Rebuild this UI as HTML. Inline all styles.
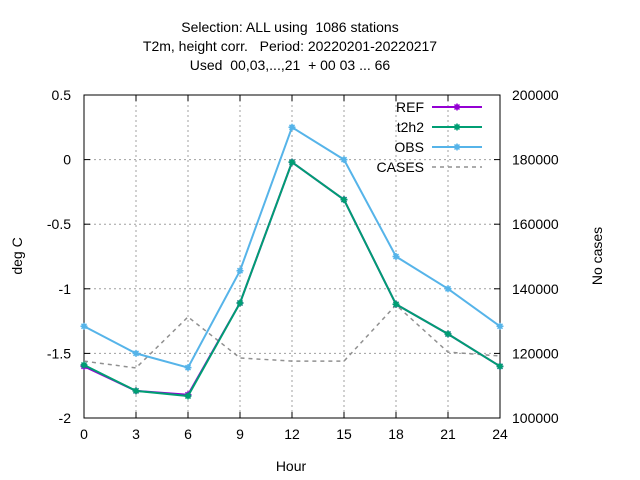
<!DOCTYPE html>
<html><head><meta charset="utf-8"><style>
body{margin:0;background:#fff;}
svg{display:block;font-family:"Liberation Sans",sans-serif;}
.pre{white-space:pre;}
</style></head><body>
<svg id="chart" width="640" height="480" viewBox="0 0 640 480" xmlns="http://www.w3.org/2000/svg">
<g font-size="14" text-anchor="middle" fill="#000">
<text class="pre" x="290" y="32">Selection: ALL using  1086 stations</text>
<text class="pre" x="290" y="51">T2m, height corr.   Period: 20220201-20220217</text>
<text class="pre" x="290" y="70">Used  00,03,...,21  + 00 03 ... 66</text>
</g>
<g id="grid"></g>
<g id="axes"></g>
<g id="series"></g>
<text transform="translate(22,256) rotate(-90)" text-anchor="middle" font-size="14">deg C</text>
<text transform="translate(602,256) rotate(-90)" text-anchor="middle" font-size="14">No cases</text>
<text x="291" y="471" text-anchor="middle" font-size="14">Hour</text>
<g id="legend"></g>
</svg>
<script>
const hours=[0,3,6,9,12,15,18,21,24];
const xTicks=[0,3,6,9,12,15,18,21,24];
const yTicks=[0.5,0,-0.5,-1,-1.5,-2];
const yTickLabels=["0.5","0","-0.5","-1","-1.5","-2"];
const y2Ticks=[200000,180000,160000,140000,120000,100000];
const refVals=[-1.60,-1.79,-1.82,-1.11,-0.02,-0.31,-1.12,-1.35,-1.60];
const t2h2Vals=[-1.59,-1.79,-1.83,-1.11,-0.02,-0.31,-1.12,-1.35,-1.60];
const obsVals=[-1.29,-1.50,-1.61,-0.86,0.25,0.00,-0.75,-1.00,-1.29];
const casesVals=[117600,115500,131300,118600,117600,117600,135000,120400,119200];

const L=84,R=500,T=95,B=418;
const sx=h=>L+(h-0)/24*(R-L);
const sy=v=>T+(0.5-v)/2.5*(B-T);
const sy2=v=>T+(200000-v)/100000*(B-T);
const NS="http://www.w3.org/2000/svg";
function mk(tag,attrs,parent){const e=document.createElementNS(NS,tag);for(const k in attrs)e.setAttribute(k,attrs[k]);parent.appendChild(e);return e;}
const grid=document.getElementById('grid'),axes=document.getElementById('axes'),series=document.getElementById('series'),legend=document.getElementById('legend');
xTicks.forEach(h=>{const x=sx(h);
 const g=mk('line',{x1:x,y1:T,x2:x,y2:B,stroke:'#a0a0a0','stroke-dasharray':'2,3','stroke-width':1},grid);
 
 
 const t=mk('text',{x:x,y:B+21,'text-anchor':'middle','font-size':14},axes);t.textContent=h;
 
 
 mk('line',{x1:x,y1:B,x2:x,y2:B-6,stroke:'#000'},axes);mk('line',{x1:x,y1:T,x2:x,y2:T+6,stroke:'#000'},axes);});
yTicks.forEach((v,i)=>{const y=sy(v);
 const g=mk('line',{x1:L,y1:y,x2:R,y2:y,stroke:'#a0a0a0','stroke-dasharray':'2,3','stroke-width':1},grid);
 
 
 const t=mk('text',{x:L-13,y:y+5,'text-anchor':'end','font-size':14},axes);t.textContent=yTickLabels[i];
 
 
 mk('line',{x1:L,y1:y,x2:L+6,y2:y,stroke:'#000'},axes);});
y2Ticks.forEach(v=>{const y=sy2(v);
 const t=mk('text',{x:R+12,y:y+5,'text-anchor':'start','font-size':14},axes);t.textContent=v;
 
 
 mk('line',{x1:R,y1:y,x2:R-6,y2:y,stroke:'#000'},axes);});
const fr=mk('rect',{x:L,y:T,width:R-L,height:B-T,fill:'none',stroke:'#000'},axes);


function star(x,y,c,p){mk('path',{d:`M${x-3.5} ${y}h7M${x} ${y-3.5}v7M${x-2.5} ${y-2.5}l5 5M${x-2.5} ${y+2.5}l5 -5`,stroke:c,'stroke-width':1.5},p);mk('circle',{cx:x,cy:y,r:2.5,fill:c},p);}
function line(vals,scale,color,name,dash,marks){
 const pts=vals.map((v,i)=>sx(hours[i])+','+scale(v)).join(' ');
 const pl=mk('polyline',{points:pts,fill:'none',stroke:color,'stroke-width':dash?1.5:2},series);
 if(dash)pl.setAttribute('stroke-dasharray','4,4');
 
 
 if(marks)vals.forEach((v,i)=>star(sx(hours[i]),scale(v),color,series));}
line(casesVals,sy2,'#909090','cases',true,false);
line(refVals,sy,'#9400d3','ref',false,true);
line(t2h2Vals,sy,'#009e73','t2h2',false,true);
line(obsVals,sy,'#56b4e9','obs',false,true);
const leg=[['REF','#9400d3',false],['t2h2','#009e73',false],['OBS','#56b4e9',false],['CASES','#909090',true]];
leg.forEach((e,i)=>{const y=107+i*20;
 const t=mk('text',{x:424,y:y+5,'text-anchor':'end','font-size':14},legend);t.textContent=e[0];
 
 
 const l=mk('line',{x1:432,y1:y,x2:482,y2:y,stroke:e[1],'stroke-width':e[2]?1.5:2},legend);
 if(e[2])l.setAttribute('stroke-dasharray','4,4');else star(457,y,e[1],legend);});
</script>
</body></html>
